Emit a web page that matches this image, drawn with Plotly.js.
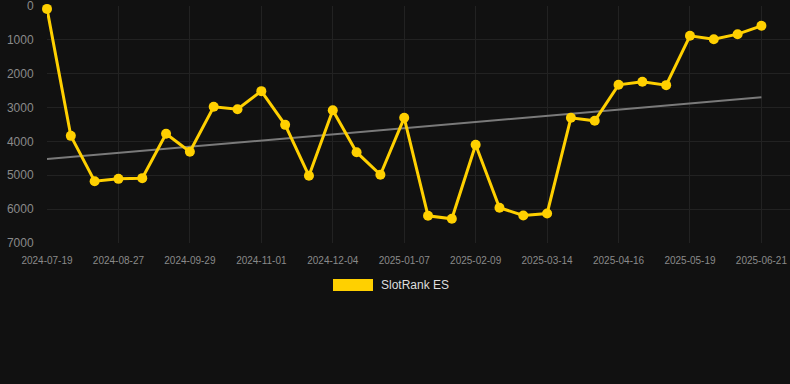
<!DOCTYPE html>
<html>
<head>
<meta charset="utf-8">
<script src="https://cdn.plot.ly/plotly-3.0.1.min.js"></script>
<style>
html,body{margin:0;padding:0;background:#111111;}
#chart{width:790px;height:384px;}
</style>
</head>
<body>
<div id="chart"></div>
<script>
var dates = [
  "2024-07-19","2024-08-01","2024-08-14","2024-08-27","2024-09-07","2024-09-18",
  "2024-09-29","2024-10-10","2024-10-21","2024-11-01","2024-11-12","2024-11-23",
  "2024-12-04","2024-12-15","2024-12-26","2025-01-07","2025-01-18","2025-01-29",
  "2025-02-09","2025-02-20","2025-03-03","2025-03-14","2025-03-25","2025-04-05",
  "2025-04-16","2025-04-27","2025-05-08","2025-05-19","2025-05-30","2025-06-10",
  "2025-06-21"
];
var rankES = [
  85, 3835, 5175, 5105, 5085, 3775,
  4305, 2978, 3048, 2515, 3510, 5015,
  3077, 4318, 4985, 3303, 6197, 6285,
  4100, 5960, 6187, 6128, 3303, 3391,
  2328, 2239, 2338, 881, 980, 832,
  585
];
var tickLabels = ["2024-07-19","2024-08-27","2024-09-29","2024-11-01","2024-12-04",
  "2025-01-07","2025-02-09","2025-03-14","2025-04-16","2025-05-19","2025-06-21"];
var seriesName = "SlotRank ES";

// linear trend (least squares over category index)
var n = rankES.length, sx = 0, sy = 0, sxx = 0, sxy = 0;
for (var i = 0; i < n; i++) { sx += i; sy += rankES[i]; sxx += i*i; sxy += i*rankES[i]; }
var slope = (n*sxy - sx*sy) / (n*sxx - sx*sx);
var icpt = (sy - slope*sx) / n;
var trendX = [dates[0], dates[n-1]];
var trendY = [icpt, icpt + slope*(n-1)];

var gold = "#FFD000";
var traces = [
  {x: trendX, y: trendY, type: "scatter", mode: "lines",
   line: {color: "#7a7a7a", width: 2}, hoverinfo: "skip", showlegend: false},
  {x: dates, y: rankES, type: "scatter", mode: "lines+markers", name: seriesName,
   line: {color: gold, width: 3}, marker: {color: gold, size: 10}, showlegend: false,
   cliponaxis: false}
];

var layout = {
  width: 790, height: 384,
  paper_bgcolor: "#111111", plot_bgcolor: "#111111",
  margin: {l: 47, r: 0, t: 6, b: 141},
  font: {family: "Liberation Sans, Arial, sans-serif", color: "#8a8a8a"},
  showlegend: false,
  xaxis: {
    type: "category", categoryorder: "array", categoryarray: dates,
    range: [0, 31.2],
    tickmode: "array", tickvals: tickLabels, ticktext: tickLabels,
    tickfont: {size: 10, color: "#8a8a8a"},
    showgrid: true, gridcolor: "#222222", gridwidth: 1,
    zeroline: false, showline: false, ticks: "outside", ticklen: 8,
    tickcolor: "rgba(0,0,0,0)",
    automargin: false
  },
  yaxis: {
    range: [7000, 0], tickvals: [0,1000,2000,3000,4000,5000,6000,7000],
    tickfont: {size: 12, color: "#8a8a8a"}, ticklabeloverflow: "allow",
    showgrid: true, gridcolor: "#222222", gridwidth: 1,
    zeroline: false, showline: false, ticks: "outside", ticklen: 10, tickcolor: "rgba(0,0,0,0)",
    automargin: false
  },
  shapes: [
    {type: "rect", xref: "paper", yref: "paper",
     x0: (333-47)/743, x1: (373-47)/743, y0: (237-285)/237, y1: (237-273)/237,
     fillcolor: gold, line: {width: 0}}
  ],
  annotations: [
    {xref: "paper", yref: "paper", x: (379-47)/743, y: (237-279)/237,
     xanchor: "left", yanchor: "middle", showarrow: false, text: seriesName,
     font: {size: 12, color: "#dddddd"}}
  ]
};

Plotly.newPlot("chart", traces, layout, {displayModeBar: false, staticPlot: true});
</script>
</body>
</html>
